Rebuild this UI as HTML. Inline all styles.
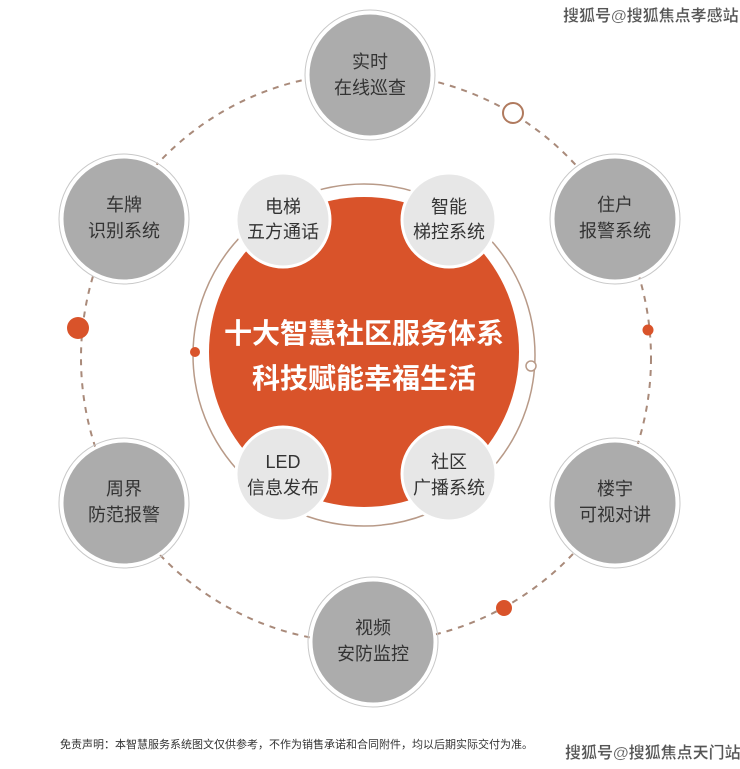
<!DOCTYPE html>
<html><head><meta charset="utf-8"><style>
html,body{margin:0;padding:0;background:#fff;}
svg{display:block;}
text{font-family:"Liberation Sans","Noto Sans CJK SC",sans-serif;}
</style></head><body>
<svg width="740" height="769" viewBox="0 0 740 769" xmlns="http://www.w3.org/2000/svg">
<rect width="740" height="769" fill="#fff"/>
<!-- dashed outer circle -->
<circle cx="366" cy="358" r="285" fill="none" stroke="#a98a7a" stroke-width="2" stroke-dasharray="6 6"/>
<!-- center ring -->
<circle cx="364" cy="355" r="171" fill="none" stroke="#b89a88" stroke-width="1.5"/>
<circle cx="364" cy="352" r="155" fill="#d9532a"/>
<circle cx="195" cy="352" r="5" fill="#d9532a"/>
<circle cx="531" cy="366" r="5" fill="#fff" stroke="#b89a88" stroke-width="1.5"/>
<!-- outer markers -->
<circle cx="513" cy="113" r="10" fill="#fff" stroke="#b07a5e" stroke-width="2"/>
<circle cx="78" cy="328" r="11" fill="#d9532a"/>
<circle cx="648" cy="330" r="5.5" fill="#d9532a"/>
<circle cx="504" cy="608" r="8" fill="#d9532a"/>
<!-- outer nodes -->
<g fill="#acacac" stroke="#fff" stroke-width="3">
<circle cx="370" cy="75" r="62"/>
<circle cx="124" cy="219" r="62"/>
<circle cx="615" cy="219" r="62"/>
<circle cx="124" cy="503" r="62"/>
<circle cx="615" cy="503" r="62"/>
<circle cx="373" cy="642" r="62"/>
</g>
<g fill="none" stroke="#c8c8c8" stroke-width="1">
<circle cx="370" cy="75" r="65"/>
<circle cx="124" cy="219" r="65"/>
<circle cx="615" cy="219" r="65"/>
<circle cx="124" cy="503" r="65"/>
<circle cx="615" cy="503" r="65"/>
<circle cx="373" cy="642" r="65"/>
</g>
<!-- inner nodes -->
<g fill="#e7e7e7" stroke="#fff" stroke-width="3">
<circle cx="283" cy="220" r="47"/>
<circle cx="449" cy="220" r="47"/>
<circle cx="283" cy="474" r="47"/>
<circle cx="449" cy="474" r="47"/>
</g>
<g font-size="18" fill="#333" text-anchor="middle">
<text x="370" y="68">实时</text><text x="370" y="94">在线巡查</text>
<text x="124" y="211">车牌</text><text x="124" y="237">识别系统</text>
<text x="615" y="211">住户</text><text x="615" y="237">报警系统</text>
<text x="124" y="495">周界</text><text x="124" y="521">防范报警</text>
<text x="615" y="495">楼宇</text><text x="615" y="521">可视对讲</text>
<text x="373" y="634">视频</text><text x="373" y="660">安防监控</text>
<text x="283" y="213">电梯</text><text x="283" y="238">五方通话</text>
<text x="449" y="213">智能</text><text x="449" y="238">梯控系统</text>
<text x="283" y="468">LED</text><text x="283" y="494">信息发布</text>
<text x="449" y="468">社区</text><text x="449" y="494">广播系统</text>
</g>
<g font-size="28" fill="#fff" text-anchor="middle" font-weight="bold">
<text x="364" y="343">十大智慧社区服务体系</text>
<text x="364" y="388">科技赋能幸福生活</text>
</g>
<text x="60" y="748" font-size="11" fill="#333">免责声明：本智慧服务系统图文仅供参考，不作为销售承诺和合同附件，均以后期实际交付为准。</text>
<g font-size="16" fill="#555" font-weight="bold" stroke="#fff" stroke-width="0.3">
<text x="563" y="21">搜狐号@搜狐焦点孝感站</text>
<text x="565" y="758">搜狐号@搜狐焦点天门站</text>
</g>
</svg>
</body></html>
